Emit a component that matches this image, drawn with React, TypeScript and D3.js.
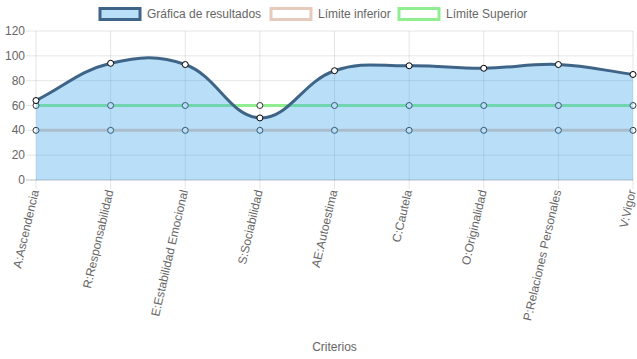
import React from "react";
import * as d3 from "d3";

const categories = [
  "A:Ascendencia",
  "R:Responsabilidad",
  "E:Estabilidad Emocional",
  "S:Sociabilidad",
  "AE:Autoestima",
  "C:Cautela",
  "O:Originalidad",
  "P:Relaciones Personales",
  "V:Vigor",
];
const resultados = [64, 94, 93, 50, 88, 92, 90, 93, 85];
const limiteInferior = [40, 40, 40, 40, 40, 40, 40, 40, 40];
const limiteSuperior = [60, 60, 60, 60, 60, 60, 60, 60, 60];
const yTicks = [0, 20, 40, 60, 80, 100, 120];
const legendLabels = ["Gráfica de resultados", "Límite inferior", "Límite Superior"];
const axisTitle = "Criterios";

const W = 637;
const H = 359;
const L = 36;
const R = 633;
const T = 31;
const B = 180;
const FONT = "Arial, 'Liberation Sans', Helvetica, sans-serif";
const TXT = "#666";

function splinePath(pts: [number, number][], tension = 0.4, top = T, bottom = B) {
  const n = pts.length;
  const cps: { p: [number, number]; n: [number, number] }[] = [];
  for (let i = 0; i < n; i++) {
    const prev = pts[Math.max(0, i - 1)];
    const cur = pts[i];
    const next = pts[Math.min(n - 1, i + 1)];
    const d01 = Math.hypot(cur[0] - prev[0], cur[1] - prev[1]);
    const d12 = Math.hypot(next[0] - cur[0], next[1] - cur[1]);
    let s01 = d01 / (d01 + d12);
    let s12 = d12 / (d01 + d12);
    if (isNaN(s01)) s01 = 0;
    if (isNaN(s12)) s12 = 0;
    const fa = tension * s01;
    const fb = tension * s12;
    const clampY = (v: number) => Math.max(top, Math.min(bottom, v));
    cps.push({
      p: [cur[0] - fa * (next[0] - prev[0]), clampY(cur[1] - fa * (next[1] - prev[1]))],
      n: [cur[0] + fb * (next[0] - prev[0]), clampY(cur[1] + fb * (next[1] - prev[1]))],
    });
  }
  const path = d3.path();
  path.moveTo(pts[0][0], pts[0][1]);
  for (let i = 1; i < n; i++) {
    path.bezierCurveTo(cps[i - 1].n[0], cps[i - 1].n[1], cps[i].p[0], cps[i].p[1], pts[i][0], pts[i][1]);
  }
  return path.toString();
}

export default function App() {
  const x = d3.scalePoint<string>().domain(categories).range([L, R]);
  const y = d3.scaleLinear().domain([0, 120]).range([B, T]);

  const resPts: [number, number][] = resultados.map((v, i) => [x(categories[i])!, y(v)]);
  const infPts: [number, number][] = limiteInferior.map((v, i) => [x(categories[i])!, y(v)]);
  const supPts: [number, number][] = limiteSuperior.map((v, i) => [x(categories[i])!, y(v)]);

  const resLine = splinePath(resPts);
  const resArea = resLine + `L${R},${y(0)}L${L},${y(0)}Z`;
  const straight = (pts: [number, number][]) => d3.line()(pts) as string;

  const legendItems = [
    { label: legendLabels[0], fill: "rgba(54,162,235,0.35)", stroke: "#3e6487", x: 100 },
    { label: legendLabels[1], fill: "#fff", stroke: "#e6cbbd", x: 271 },
    { label: legendLabels[2], fill: "#fff", stroke: "#90ee90", x: 399 },
  ];

  return (
    <svg width={W} height={H} style={{ position: "absolute", left: 0, top: 0 }} fontFamily={FONT}>
      <rect width={W} height={H} fill="#fff" />
      {/* legend */}
      {legendItems.map((it) => (
        <g key={it.label}>
          <rect x={it.x} y={8.5} width={40} height={11} fill={it.fill} stroke={it.stroke} strokeWidth={3} />
          <text x={it.x + 47} y={14} dominantBaseline="central" fontSize={12} fill={TXT}>
            {it.label}
          </text>
        </g>
      ))}
      {/* horizontal grid */}
      {yTicks.map((t) => (
        <g key={t}>
          <line
            x1={L - 10}
            x2={R}
            y1={y(t)}
            y2={y(t)}
            stroke={t === 0 ? "rgba(0,0,0,0.25)" : "rgba(0,0,0,0.1)"}
            strokeWidth={1}
          />
          <text x={L - 11} y={y(t)} textAnchor="end" dominantBaseline="central" fontSize={12} fill={TXT}>
            {t}
          </text>
        </g>
      ))}
      {/* vertical grid */}
      {categories.map((c) => (
        <g key={c}>
          <line x1={x(c)!} x2={x(c)!} y1={T} y2={B + 9} stroke="rgba(0,0,0,0.1)" />
          <text
            transform={`translate(${x(c)! - 1},${B + 10}) rotate(-77)`}
            textAnchor="end"
            dominantBaseline="central"
            fontSize={12}
            fill={TXT}
          >
            {c}
          </text>
        </g>
      ))}
      {/* limit lines */}
      <path d={straight(supPts)} fill="none" stroke="#90ee90" strokeWidth={3} />
      {supPts.map((p, i) => (
        <circle key={"s" + i} cx={p[0]} cy={p[1]} r={3} fill="#fff" stroke="#333" strokeWidth={1} />
      ))}
      <path d={straight(infPts)} fill="none" stroke="#e6cbbd" strokeWidth={3} />
      {infPts.map((p, i) => (
        <circle key={"i" + i} cx={p[0]} cy={p[1]} r={3} fill="#fff" stroke="#333" strokeWidth={1} />
      ))}
      {/* results */}
      <path d={resArea} fill="rgba(54,162,235,0.35)" stroke="none" />
      <path d={resLine} fill="none" stroke="#3e6487" strokeWidth={3} />
      {resPts.map((p, i) => (
        <circle key={"r" + i} cx={p[0]} cy={p[1]} r={3} fill="#fff" stroke="#000" strokeWidth={1} />
      ))}
      <text x={(L + R) / 2} y={347} textAnchor="middle" dominantBaseline="central" fontSize={12} fill={TXT}>
        {axisTitle}
      </text>
    </svg>
  );
}
